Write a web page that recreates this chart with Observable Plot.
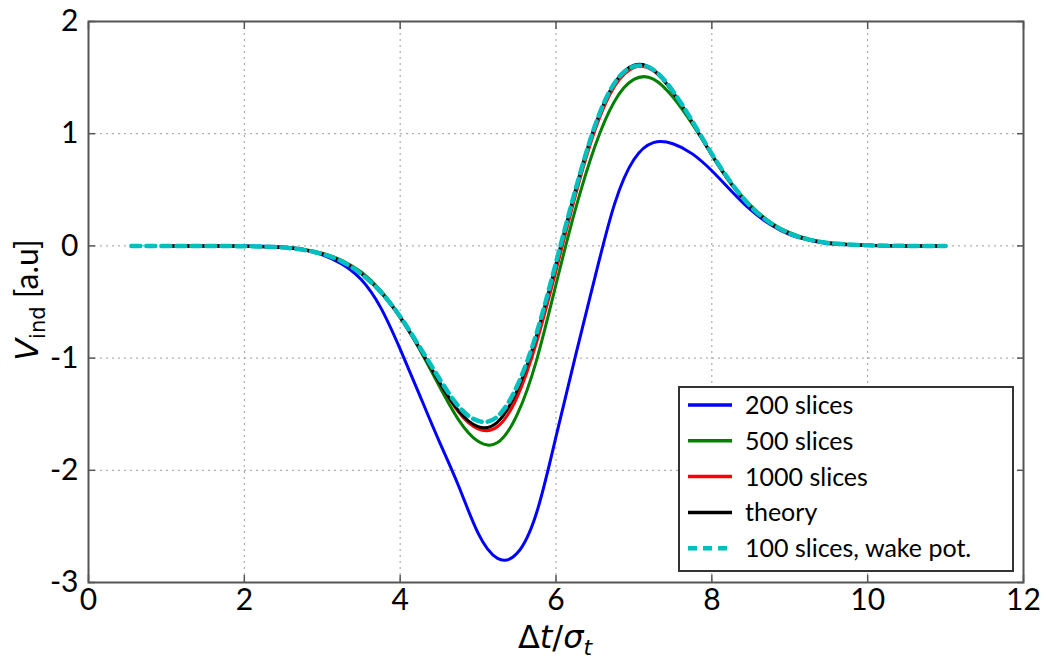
<!DOCTYPE html>
<html><head><meta charset="utf-8">
<script src="https://cdn.jsdelivr.net/npm/d3@7"></script>
<script src="https://cdn.jsdelivr.net/npm/@observablehq/plot@0.6"></script>
<style>body{margin:0;background:#fff} #chart svg{display:block}</style>
</head><body><div id="chart"></div>
<script>
const xs = [1,1.25,1.5,1.75,2,2.25,2.5,2.75,3,3.25,3.5,3.75,4,4.25,4.5,4.75,5,5.25,5.5,5.75,6,6.25,6.5,6.75,7,7.25,7.5,7.75,8,8.25,8.5,8.75,9,9.25,9.5,9.75,10,10.25,10.5,10.75,11];
const blue200 = [0,0,0,-0.001,-0.002,-0.004,-0.01,-0.03,-0.08,-0.16,-0.30,-0.55,-0.92,-1.33,-1.74,-2.14,-2.56,-2.785,-2.74,-2.38,-1.70,-0.98,-0.28,0.37,0.77,0.92,0.91,0.82,0.67,0.49,0.32,0.19,0.10,0.05,0.02,0.01,0.004,0.001,0,0,0];
const green500 = [0,0,0,-0.001,-0.003,-0.006,-0.013,-0.03,-0.065,-0.128,-0.233,-0.398,-0.631,-0.923,-1.246,-1.55,-1.742,-1.753,-1.507,-1.02,-0.344,0.327,0.889,1.288,1.484,1.487,1.326,1.085,0.815,0.56,0.36,0.212,0.118,0.06,0.028,0.013,0.005,0.002,0,0,0];
const red1000 = [0,0,0,-0.001,-0.003,-0.007,-0.015,-0.034,-0.07,-0.135,-0.243,-0.41,-0.63,-0.91,-1.21,-1.48,-1.63,-1.61,-1.35,-0.86,-0.22,0.45,1.03,1.42,1.59,1.56,1.37,1.10,0.81,0.55,0.345,0.20,0.11,0.056,0.026,0.012,0.005,0.002,0,0,0];
const theory = [0,0,0,-0.001,-0.003,-0.007,-0.015,-0.034,-0.072,-0.138,-0.247,-0.412,-0.639,-0.915,-1.21,-1.47,-1.61,-1.57,-1.29,-0.80,-0.16,0.50,1.07,1.45,1.61,1.57,1.37,1.10,0.81,0.55,0.345,0.20,0.11,0.056,0.026,0.012,0.005,0.002,0,0,0];
const xsWake = [0.55,0.75,1,1.25,1.5,1.75,2,2.25,2.5,2.75,3,3.25,3.5,3.75,4,4.25,4.5,4.75,5,5.25,5.5,5.75,6,6.25,6.5,6.75,7,7.25,7.5,7.75,8,8.25,8.5,8.75,9,9.25,9.5,9.75,10,10.25,10.5,10.75,11];
const wake100 = [0,0,0,0,0,-0.001,-0.003,-0.007,-0.015,-0.034,-0.072,-0.138,-0.25,-0.41,-0.63,-0.90,-1.18,-1.43,-1.56,-1.52,-1.25,-0.78,-0.15,0.50,1.07,1.45,1.60,1.57,1.38,1.11,0.82,0.56,0.35,0.205,0.11,0.056,0.026,0.012,0.005,0.002,0,0,0];

const seriesNames = ["200 slices","500 slices","1000 slices","theory","100 slices, wake pot."];
const seriesColors = ["#0000ff","#008000","#ff0000","#000000","#00bfbf"];
const xTicks = [0,2,4,6,8,10,12];
const yTicks = [-3,-2,-1,0,1,2];

const toRows = (xv, yv) => xv.map((x, i) => ({x, y: yv[i]}));
const rows = [toRows(xs, blue200), toRows(xs, green500), toRows(xs, red1000), toRows(xs, theory), toRows(xsWake, wake100)];

const W = 1047, H = 660;
const axisStyle = {stroke: "#555", strokeWidth: 1.5, label: null};
const chart = Plot.plot({
  width: W, height: H,
  marginLeft: 88, marginRight: 24, marginTop: 21, marginBottom: 78,
  style: {fontFamily: "Lato, 'Open Sans', sans-serif", background: "#fff", color: "#000"},
  x: {domain: [0, 12], ticks: xTicks, label: null},
  y: {domain: [-3, 2], ticks: yTicks, label: null},
  marks: [
    Plot.gridX(xTicks, {stroke: "#9a9a9a", strokeOpacity: 1, strokeDasharray: "2,4"}),
    Plot.gridY(yTicks, {stroke: "#9a9a9a", strokeOpacity: 1, strokeDasharray: "2,4"}),
    Plot.axisX(xTicks, {anchor: "bottom", tickSize: 7, dy: -7, text: null, ...axisStyle}),
    Plot.axisX(xTicks, {anchor: "top", tickSize: 7, dy: 7, text: null, ...axisStyle}),
    Plot.axisY(yTicks, {anchor: "left", tickSize: 7, dx: 7, text: null, ...axisStyle}),
    Plot.axisY(yTicks, {anchor: "right", tickSize: 7, dx: -7, text: null, ...axisStyle}),
    Plot.axisX(xTicks, {anchor: "bottom", tickSize: 0, tickPadding: 6, fontSize: 30, label: null, tickFormat: d => String(d)}),
    Plot.axisY(yTicks, {anchor: "left", tickSize: 0, tickPadding: 10, fontSize: 30, label: null, tickFormat: d => String(d)}),
    ...rows.slice(0, 4).map((r, i) => Plot.line(r, {x: "x", y: "y", stroke: seriesColors[i], strokeWidth: 3, curve: "natural"})),
    Plot.line(rows[4], {x: "x", y: "y", stroke: seriesColors[4], strokeWidth: 4.5, strokeDasharray: "9,6", curve: "natural"}),
    Plot.frame({stroke: "#555", strokeWidth: 2})
  ]
});
document.getElementById("chart").append(chart);

const svg = d3.select(chart);
// legend
const lg = svg.append("g");
lg.append("rect").attr("x", 679).attr("y", 387).attr("width", 334).attr("height", 184)
  .attr("fill", "#fff").attr("stroke", "#333").attr("stroke-width", 2);
seriesNames.forEach((name, i) => {
  const cy = 405 + i * 35.8;
  lg.append("line").attr("x1", 688).attr("x2", 732).attr("y1", cy).attr("y2", cy)
    .attr("stroke", seriesColors[i]).attr("stroke-width", i === 4 ? 4.5 : 3.5)
    .attr("stroke-dasharray", i === 4 ? "9,6" : null);
  lg.append("text").attr("x", 745).attr("y", cy).attr("dy", "0.36em").attr("text-anchor", "start")
    .attr("font-family", "Lato, 'Open Sans', sans-serif").attr("font-size", 25).attr("fill", "#000").text(name);
});
// axis labels
const xl = svg.append("text").attr("x", 555).attr("y", 648).attr("text-anchor", "middle")
  .attr("font-family", "'DejaVu Sans', sans-serif").attr("font-size", 32).attr("fill", "#000");
xl.append("tspan").text("Δ");
xl.append("tspan").attr("font-style", "italic").text("t");
xl.append("tspan").text("/");
xl.append("tspan").attr("font-style", "italic").text("σ");
xl.append("tspan").attr("font-style", "italic").attr("font-size", 22).attr("dy", 7).text("t");
const yl = svg.append("text").attr("transform", "translate(38,300) rotate(-90)").attr("text-anchor", "middle")
  .attr("font-size", 32).attr("fill", "#000");
yl.append("tspan").attr("font-family", "'DejaVu Sans', sans-serif").attr("font-style", "italic").text("V");
yl.append("tspan").attr("font-family", "'DejaVu Sans', sans-serif").attr("font-size", 21).attr("dy", 7).text("ind");
yl.append("tspan").attr("font-family", "Lato, sans-serif").attr("dy", -7).text(" [a.u]");
</script>
</body></html>
